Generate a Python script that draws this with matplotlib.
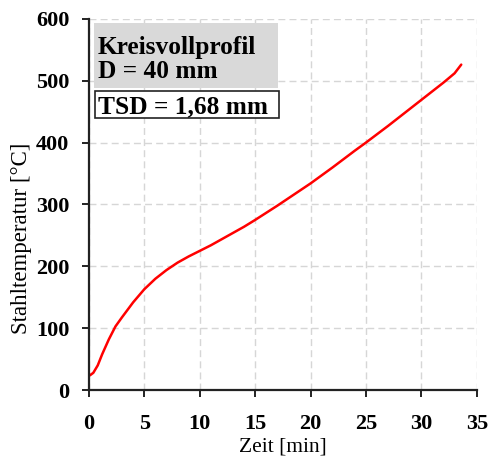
import matplotlib.pyplot as plt
from matplotlib.patches import Rectangle

# Zeit [min] und Stahltemperatur [°C]
zeit = [0.1, 0.4, 0.8, 1.2, 1.8, 2.4, 3, 4, 5, 6, 7, 8, 9, 10, 11, 12, 13, 14, 15,
        17, 19, 20, 22, 24, 25, 27, 29, 30, 31, 32, 33, 33.6]
temp = [24, 28, 40, 58, 82, 103, 118, 142, 163, 180, 194, 206, 216, 225, 234, 244,
        254, 264, 275, 298, 322, 334, 360, 387, 400, 427, 455, 469, 483, 497, 512, 526]

x_ticks = [0, 5, 10, 15, 20, 25, 30, 35]
y_ticks = [0, 100, 200, 300, 400, 500, 600]

plt.rcParams['font.family'] = ['Liberation Serif', 'DejaVu Serif']

fig = plt.figure(figsize=(4.91, 4.59), dpi=100)
ax = fig.add_axes([0.181, 0.150, 0.790, 0.809])

ax.plot(zeit, temp, color='#ff0000', lw=1.8, solid_capstyle='round')

ax.set_xlim(0, 35)
ax.set_ylim(0, 600)
ax.set_xticks(x_ticks)
ax.set_yticks(y_ticks)
ax.grid(True, color='#d6d6d6', linestyle=(0, (5, 3)), lw=1.0)
ax.set_axisbelow(True)

for s in ['top', 'right']:
    ax.spines[s].set_visible(False)
for s in ['left', 'bottom']:
    ax.spines[s].set_linewidth(1.6)
    ax.spines[s].set_color('#222222')
ax.tick_params(direction='out', length=5, width=1.4, color='#222222', labelsize=16)
ax.tick_params(axis='x', pad=12.5)
ax.tick_params(axis='y', pad=9)
for lab in ax.get_xticklabels() + ax.get_yticklabels():
    lab.set_fontweight('bold')

ax.set_xlabel('Zeit [min]', fontsize=15.5, labelpad=2)
ax.set_ylabel('Stahltemperatur [°C]', fontsize=16.5)
ax.yaxis.set_label_coords(-0.147, 0.41)

# Infoboxen
ax.add_patch(Rectangle((0.013, 0.814), 0.474, 0.175, transform=ax.transAxes,
                       fc='#d9d9d9', ec='none', clip_on=False, zorder=3))
ax.add_patch(Rectangle((0.015, 0.733), 0.475, 0.073, transform=ax.transAxes,
                       fc='white', ec='#222222', lw=1.2, clip_on=False, zorder=3))
ax.text(0.023, 0.906, 'Kreisvollprofil', transform=ax.transAxes, fontsize=18.3,
        fontweight='bold', va='baseline', ha='left', zorder=4)
ax.text(0.023, 0.841, 'D = 40 mm', transform=ax.transAxes, fontsize=18.3,
        fontweight='bold', va='baseline', ha='left', zorder=4)
ax.text(0.023, 0.746, 'TSD = 1,68 mm', transform=ax.transAxes, fontsize=18.3,
        fontweight='bold', va='baseline', ha='left', zorder=4)

fig.savefig('out.png', dpi=100)
